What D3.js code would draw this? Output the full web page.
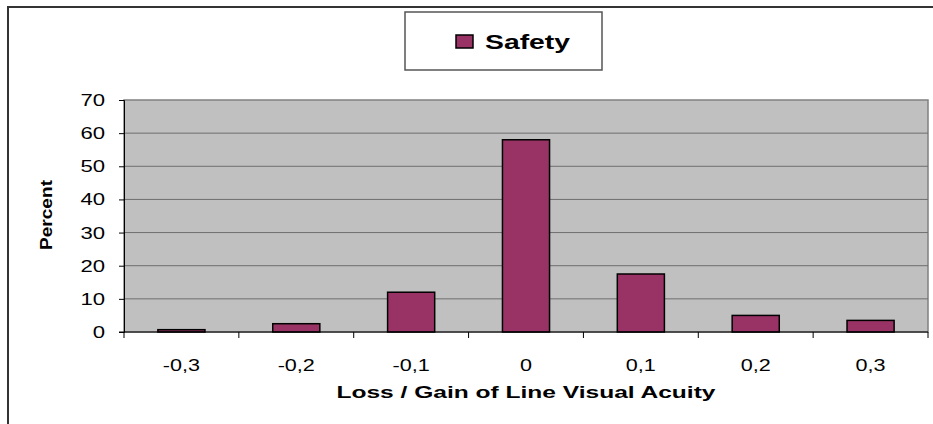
<!DOCTYPE html>
<html>
<head>
<meta charset="utf-8">
<script src="https://cdn.jsdelivr.net/npm/d3@7"></script>
<style>
  body { margin: 0; background: #fff; }
  text { font-family: Arial, "Liberation Sans", sans-serif; fill: #000; }
</style>
</head>
<body>
<svg id="chart" width="933" height="424"></svg>
<script>
var categories = ['-0,3', '-0,2', '-0,1', '0', '0,1', '0,2', '0,3']
var safety = [0.7, 2.5, 12, 58, 17.5, 5, 3.5]
var yTicks = [0, 10, 20, 30, 40, 50, 60, 70]
var seriesName = 'Safety'

var svg = d3.select('#chart')
var plotLeft = 124, plotRight = 928, plotTop = 100, plotBottom = 332

// the old chart font is wider than Arial, so stretch texts horizontally
var stretch = (sel, factor) => sel.each(function () {
  var w = this.getComputedTextLength()
  d3.select(this).attr('textLength', w * factor).attr('lengthAdjust', 'spacingAndGlyphs')
})

// outer chart frame (only top and left edges visible)
svg.append('path')
  .attr('d', 'M8,433 L8,7 L940,7')
  .attr('fill', 'none')
  .attr('stroke', '#333')
  .attr('stroke-width', 2)

var x = d3.scaleBand().domain(categories).range([plotLeft, plotRight]).padding(0)
var y = d3.scaleLinear().domain([0, 70]).range([plotBottom, plotTop])

// plot area
svg.append('rect')
  .attr('x', plotLeft).attr('y', plotTop)
  .attr('width', plotRight - plotLeft).attr('height', plotBottom - plotTop)
  .attr('fill', '#c0c0c0')
  .attr('stroke', '#808080').attr('stroke-width', 1.5)

// gridlines
svg.append('g').selectAll('line')
  .data(yTicks.filter((t) => t > 0 && t < 70))
  .enter().append('line')
  .attr('x1', plotLeft).attr('x2', plotRight)
  .attr('y1', (d) => y(d)).attr('y2', (d) => y(d))
  .attr('stroke', '#6e6e6e').attr('stroke-width', 1)

// bars
var barW = x.bandwidth() * 0.41
svg.append('g').selectAll('rect')
  .data(safety)
  .enter().append('rect')
  .attr('x', (d, i) => x(categories[i]) + (x.bandwidth() - barW) / 2)
  .attr('y', (d) => y(d))
  .attr('width', barW)
  .attr('height', (d) => plotBottom - y(d))
  .attr('fill', '#993366')
  .attr('stroke', '#000').attr('stroke-width', 1.5)

// y axis
var yAxis = svg.append('g')
  .attr('transform', 'translate(' + plotLeft + ',0)')
  .call(d3.axisLeft(y).tickValues(yTicks).tickSize(5).tickPadding(14))
yAxis.select('.domain').attr('stroke', '#000')
yAxis.selectAll('.tick line').attr('stroke', '#000')
yAxis.selectAll('text').attr('font-size', 17)
  .attr('font-family', 'Arial, "Liberation Sans", sans-serif')
  .call(stretch, 1.3)

// x axis (ticks at category boundaries)
svg.append('line')
  .attr('x1', plotLeft - 5).attr('x2', plotRight)
  .attr('y1', plotBottom).attr('y2', plotBottom)
  .attr('stroke', '#000')
var edges = categories.map((c) => x(c)).concat([plotRight])
svg.append('g').selectAll('line')
  .data(edges).enter().append('line')
  .attr('x1', (d) => d).attr('x2', (d) => d)
  .attr('y1', plotBottom).attr('y2', plotBottom + 6)
  .attr('stroke', '#000')
svg.append('g').selectAll('text')
  .data(categories).enter().append('text')
  .attr('x', (d) => x(d) + x.bandwidth() / 2)
  .attr('y', 371)
  .attr('text-anchor', 'middle')
  .attr('font-size', 17)
  .text((d) => d)
  .call(stretch, 1.27)

// axis titles
svg.append('text')
  .attr('x', (plotLeft + plotRight) / 2).attr('y', 398)
  .attr('text-anchor', 'middle')
  .attr('font-size', 16).attr('font-weight', 'bold')
  .attr('textLength', 379).attr('lengthAdjust', 'spacingAndGlyphs')
  .text('Loss / Gain of Line Visual Acuity')
svg.append('text')
  .attr('transform', 'translate(52,215) rotate(-90)')
  .attr('text-anchor', 'middle')
  .attr('font-size', 17).attr('font-weight', 'bold')
  .attr('textLength', 70).attr('lengthAdjust', 'spacingAndGlyphs')
  .text('Percent')

// legend
var lg = svg.append('g')
lg.append('rect')
  .attr('x', 405).attr('y', 12).attr('width', 197).attr('height', 58)
  .attr('fill', '#fff').attr('stroke', '#555').attr('stroke-width', 1.5)
lg.append('rect')
  .attr('x', 456).attr('y', 35).attr('width', 17).attr('height', 13)
  .attr('fill', '#993366').attr('stroke', '#000').attr('stroke-width', 1.5)
lg.append('text')
  .attr('x', 485).attr('y', 49)
  .attr('font-size', 21).attr('font-weight', 'bold')
  .attr('textLength', 85).attr('lengthAdjust', 'spacingAndGlyphs')
  .text(seriesName)
</script>
</body>
</html>
